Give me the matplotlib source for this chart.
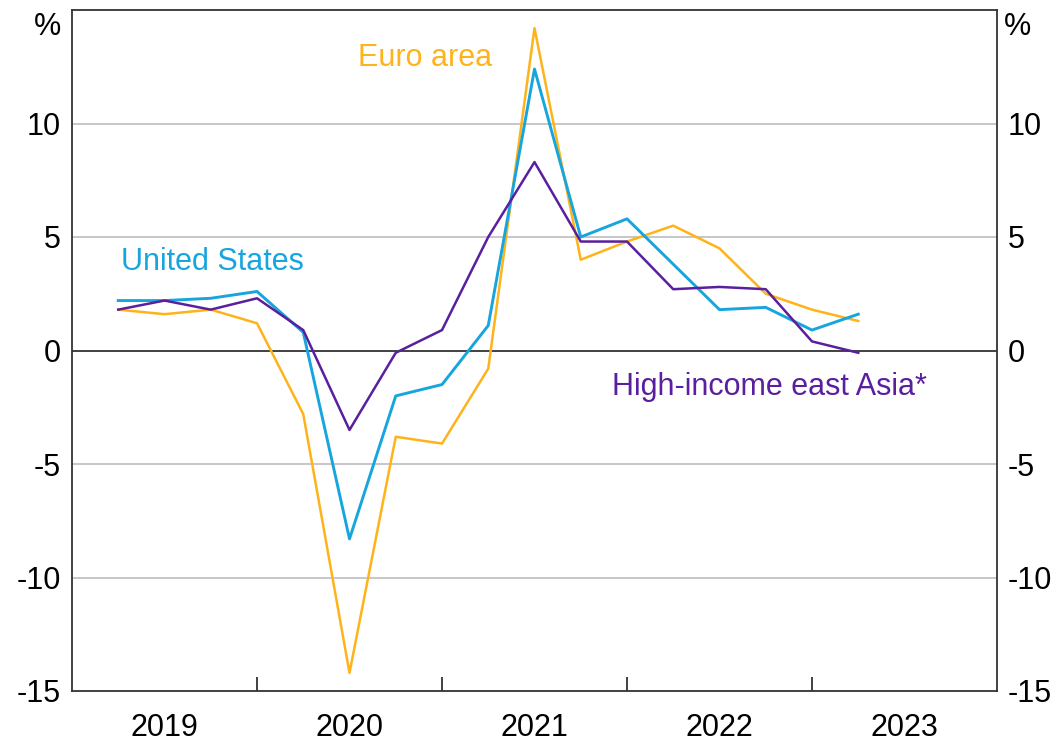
import matplotlib
matplotlib.use("Agg")
import matplotlib.pyplot as plt
import numpy as np

plt.rcParams['font.family'] = ['Liberation Sans', 'DejaVu Sans']

quarters = ["2019Q1", "2019Q2", "2019Q3", "2019Q4",
            "2020Q1", "2020Q2", "2020Q3", "2020Q4",
            "2021Q1", "2021Q2", "2021Q3", "2021Q4",
            "2022Q1", "2022Q2", "2022Q3", "2022Q4",
            "2023Q1"]
united_states = [2.2, 2.2, 2.3, 2.6, 0.8, -8.3, -2.0, -1.5, 1.1, 12.4,
                 5.0, 5.8, 3.8, 1.8, 1.9, 0.9, 1.6]
euro_area = [1.8, 1.6, 1.8, 1.2, -2.8, -14.2, -3.8, -4.1, -0.8, 14.2,
             4.0, 4.8, 5.5, 4.5, 2.5, 1.8, 1.3]
east_asia = [1.8, 2.2, 1.8, 2.3, 0.9, -3.5, -0.1, 0.9, 5.0, 8.3,
             4.8, 4.8, 2.7, 2.8, 2.7, 0.4, -0.1]
year_labels = ["2019", "2020", "2021", "2022", "2023"]
y_ticks = [-15, -10, -5, 0, 5, 10]

# quarter-end positions in fractional years
xq = np.array([int(q[:4]) + int(q[-1]) / 4 for q in quarters])

c_us = "#17A5DE"
c_eu = "#FFB31A"
c_ea = "#5A1F9E"
FS = 22

fig = plt.figure(figsize=(10.57, 7.42), dpi=100)
ax = fig.add_axes([72/1057, 1 - 691/742, (997-72)/1057, (691-10)/742])

ax.set_xlim(2019, 2024)
ax.set_ylim(-15, 15)

for y in [-10, -5, 5, 10]:
    ax.axhline(y, color="#BDBDBD", lw=1.2, zorder=1)
ax.axhline(0, color="#333333", lw=1.3, zorder=2)

ax.plot(xq, euro_area, color=c_eu, lw=1.8, zorder=3)
ax.plot(xq, united_states, color=c_us, lw=2.1, zorder=4)
ax.plot(xq, east_asia, color=c_ea, lw=1.8, zorder=5)

ax.text(2020.91, 12.9, "Euro area", color=c_eu, fontsize=FS, ha="center", va="center")
ax.text(2019.76, 3.9, "United States", color=c_us, fontsize=FS, ha="center", va="center")
ax.text(2022.77, -1.6, "High-income east Asia*", color=c_ea, fontsize=FS, ha="center", va="center")

for s in ax.spines.values():
    s.set_color("#333333")
    s.set_linewidth(1.3)

ax.set_yticks(y_ticks)
ax.set_yticklabels([str(v) for v in y_ticks])
ax.tick_params(axis="y", length=0, labelsize=FS, pad=8, left=True, right=True,
               labelleft=True, labelright=True)

years = [int(y) for y in year_labels]
ax.set_xticks([y for y in years[1:]])
ax.set_xticklabels([])
ax.tick_params(axis="x", which="major", direction="in", length=10, width=1.3,
               color="#333333")
ax.set_xticks([y + 0.5 for y in years], minor=True)
ax.set_xticklabels(year_labels, minor=True)
ax.tick_params(axis="x", which="minor", length=0, labelsize=FS, pad=16)

ax.text(-0.012, 0.975, "%", transform=ax.transAxes, fontsize=FS, ha="right", va="center")
ax.text(1.007, 0.975, "%", transform=ax.transAxes, fontsize=FS, ha="left", va="center")

fig.savefig("out.png", dpi=100)
